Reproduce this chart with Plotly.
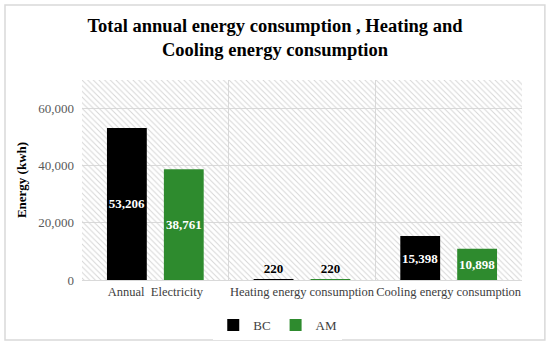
import plotly.graph_objects as go

categories = ["Annual  Electricity", "Heating energy consumption", "Cooling energy consumption"]
bc_values = [53206, 220, 15398]
am_values = [38761, 220, 10898]
series_names = ["BC", "AM"]
y_ticks = [0, 20000, 40000, 60000]
y_max = 70000

FONT = "Liberation Serif"

def fmt(v):
    return f"{v:,}"

def positions(vals):
    return ["outside" if v < 2000 else "inside" for v in vals]

fig = go.Figure()

# hatched plot-area background (base subplot, drawn beneath the bars)
fig.add_trace(go.Bar(
    x=[0.5], y=[y_max], width=[1], xaxis="x", yaxis="y",
    marker=dict(color="rgba(0,0,0,0)", line=dict(width=0),
                pattern=dict(shape="\\", fgcolor="#d6d6d6", bgcolor="rgba(0,0,0,0)",
                             size=4, solidity=0.25, fillmode="replace")),
    showlegend=False, hoverinfo="skip",
))

for name, vals, col in [(series_names[0], bc_values, "#000000"), (series_names[1], am_values, "#2e8b2e")]:
    fig.add_trace(go.Bar(
        x=categories, y=vals, name=name, xaxis="x2", yaxis="y",
        marker=dict(color=col, line=dict(width=0)),
        text=[fmt(v) for v in vals],
        textposition=positions(vals),
        textangle=0,
        constraintext="none",
        insidetextanchor="middle",
        outsidetextfont=dict(family=FONT, size=13, color="black", weight="bold"),
        insidetextfont=dict(family=FONT, size=13, color="white", weight="bold"),
        cliponaxis=False,
    ))

fig.update_layout(
    width=550, height=345,
    margin=dict(l=82, r=28, t=80, b=65),
    paper_bgcolor="white", plot_bgcolor="white",
    barmode="group", bargap=0.224, bargroupgap=0.30,
    font=dict(family=FONT, size=13, color="#404040"),
    title=dict(text="<b>Total annual energy consumption , Heating and<br>Cooling energy consumption</b>",
               x=0.5, xanchor="center", y=0.908, yanchor="middle",
               font=dict(family=FONT, size=18.5, color="black")),
    xaxis=dict(range=[0, 1], visible=False, showgrid=False, fixedrange=True, automargin=False),
    xaxis2=dict(overlaying="x", type="category", showgrid=True, gridcolor="#d9d9d9", gridwidth=1,
                tickson="boundaries", ticks="", showline=True, linecolor="#d9d9d9",
                tickangle=0, automargin=False,
                tickfont=dict(family=FONT, size=12.5, color="#404040")),
    yaxis=dict(range=[0, y_max], tickvals=y_ticks, ticktext=[fmt(v) for v in y_ticks],
               showgrid=True, gridcolor="#d9d9d9", zeroline=False, showline=False,
               automargin=False, ticks="", ticklabelstandoff=7,
               tickfont=dict(family=FONT, size=13, color="#595959"),
               title=dict(text="<b>Energy (kwh)</b>", font=dict(family=FONT, size=13, color="black"), standoff=8)),
    legend=dict(orientation="h", x=0.505, xanchor="center", xref="container",
                y=0.058, yanchor="middle", yref="container",
                font=dict(family=FONT, size=13, color="#404040"), itemwidth=30,
                traceorder="normal"),
    shapes=[dict(type="rect", xref="paper", yref="paper",
                 x0=-0.175, x1=1.052, y0=-0.3, y1=1.375,
                 line=dict(color="#d9d9d9", width=1.5), fillcolor="rgba(0,0,0,0)", layer="above")],
)

fig.write_html("out.html", config={"displayModeBar": False},
               post_script="document.body.style.margin='0';")
